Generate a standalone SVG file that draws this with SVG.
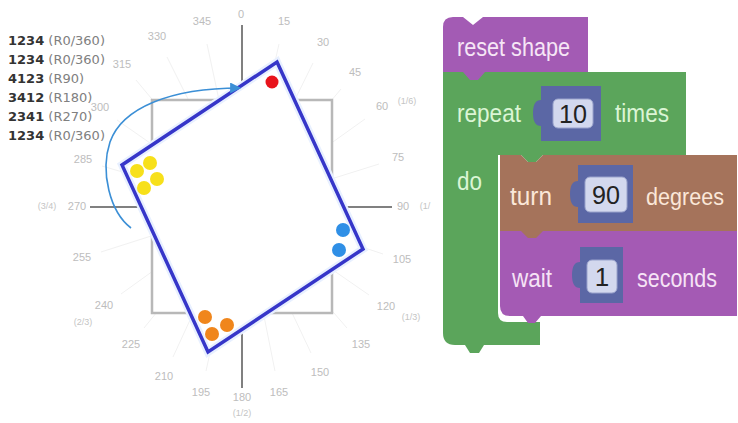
<svg xmlns="http://www.w3.org/2000/svg" width="738" height="423" viewBox="0 0 738 423">
<defs>
<style>
.ang{font-family:"Liberation Sans",Arial,sans-serif;font-size:11px;fill:#bdbdbd;text-anchor:middle;dominant-baseline:middle}
.frac{font-family:"Liberation Sans",Arial,sans-serif;font-size:9px;fill:#c4c4c4;text-anchor:middle;dominant-baseline:middle}
.ray{stroke:#f1f1f1;stroke-width:1}
.axis{stroke:#808080;stroke-width:2}
.num{font-family:"DejaVu Sans",Verdana,sans-serif;font-size:13px;font-weight:bold;fill:#333}
.rot{font-family:"DejaVu Sans",Verdana,sans-serif;font-size:13px;fill:#808080}
.blk{font-family:"Liberation Sans",Arial,sans-serif;font-size:26px}
.val{font-family:"Liberation Sans",Arial,sans-serif;font-size:26px;fill:#222;text-anchor:middle}
.in{fill:#5b67a5}
.inbox{fill:#d3d8ee;stroke:#9aa3cc;stroke-width:1}
</style>
<marker id="ah" viewBox="0 0 10 10" refX="9" refY="5" markerWidth="12" markerHeight="11" markerUnits="userSpaceOnUse" orient="auto">
<path d="M0,0 L10,5 L0,10 Z" fill="#3b8fd6"/>
</marker>
</defs>
<rect width="738" height="423" fill="#ffffff"/>

<g id="dial">
<g id="rays">
<line class="ray" x1="242" y1="207" x2="279" y2="44"/>
<line class="ray" x1="242" y1="207" x2="313" y2="63"/>
<line class="ray" x1="242" y1="207" x2="341" y2="89"/>
<line class="ray" x1="242" y1="207" x2="365" y2="119"/>
<line class="ray" x1="242" y1="207" x2="379" y2="164"/>
<line class="ray" x1="242" y1="207" x2="383" y2="254"/>
<line class="ray" x1="242" y1="207" x2="369" y2="295"/>
<line class="ray" x1="242" y1="207" x2="347" y2="328"/>
<line class="ray" x1="242" y1="207" x2="311" y2="353"/>
<line class="ray" x1="242" y1="207" x2="275" y2="371"/>
<line class="ray" x1="242" y1="207" x2="206" y2="371"/>
<line class="ray" x1="242" y1="207" x2="173" y2="357"/>
<line class="ray" x1="242" y1="207" x2="144" y2="328"/>
<line class="ray" x1="242" y1="207" x2="121" y2="294"/>
<line class="ray" x1="242" y1="207" x2="101" y2="252"/>
<line class="ray" x1="242" y1="207" x2="102" y2="166"/>
<line class="ray" x1="242" y1="207" x2="117" y2="120"/>
<line class="ray" x1="242" y1="207" x2="136" y2="80"/>
<line class="ray" x1="242" y1="207" x2="167" y2="57"/>
<line class="ray" x1="242" y1="207" x2="207" y2="44"/>
</g>
<rect x="152" y="100" width="180" height="213" fill="#ffffff" stroke="#b8b8b8" stroke-width="2.5"/>
<line class="axis" x1="242" y1="25" x2="242" y2="100"/>
<line class="axis" x1="242" y1="313" x2="242" y2="388"/>
<line class="axis" x1="90" y1="207" x2="152" y2="207"/>
<line class="axis" x1="332" y1="207" x2="392" y2="207"/>
<g id="angle-labels">
<text class="ang" x="241" y="15">0</text>
<text class="ang" x="284" y="22">15</text>
<text class="ang" x="323" y="43">30</text>
<text class="ang" x="355" y="73">45</text>
<text class="ang" x="382" y="107">60</text>
<text class="ang" x="398" y="158">75</text>
<text class="ang" x="403" y="207">90</text>
<text class="ang" x="402" y="260">105</text>
<text class="ang" x="386" y="307">120</text>
<text class="ang" x="361" y="345">135</text>
<text class="ang" x="320" y="373">150</text>
<text class="ang" x="279" y="393">165</text>
<text class="ang" x="242" y="398">180</text>
<text class="ang" x="201" y="393">195</text>
<text class="ang" x="164" y="377">210</text>
<text class="ang" x="131" y="345">225</text>
<text class="ang" x="104" y="306">240</text>
<text class="ang" x="82" y="258">255</text>
<text class="ang" x="77" y="207">270</text>
<text class="ang" x="83" y="160">285</text>
<text class="ang" x="100" y="108">300</text>
<text class="ang" x="122" y="65">315</text>
<text class="ang" x="157" y="37">330</text>
<text class="ang" x="202" y="22">345</text>
<text class="frac" x="407" y="102">(1/6)</text>
<text class="frac" x="425" y="207">(1/</text>
<text class="frac" x="411" y="318">(1/3)</text>
<text class="frac" x="242" y="414">(1/2)</text>
<text class="frac" x="83" y="323">(2/3)</text>
<text class="frac" x="47" y="207">(3/4)</text>
</g>
</g>

<g id="rotation-list">
<text x="8" y="45"><tspan class="num">1234</tspan><tspan class="rot"> (R0/360)</tspan></text>
<text x="8" y="64"><tspan class="num">1234</tspan><tspan class="rot"> (R0/360)</tspan></text>
<text x="8" y="83"><tspan class="num">4123</tspan><tspan class="rot"> (R90)</tspan></text>
<text x="8" y="102"><tspan class="num">3412</tspan><tspan class="rot"> (R180)</tspan></text>
<text x="8" y="121"><tspan class="num">2341</tspan><tspan class="rot"> (R270)</tspan></text>
<text x="8" y="140"><tspan class="num">1234</tspan><tspan class="rot"> (R0/360)</tspan></text>
</g>

<g id="shape">
<polygon points="277,62 363,249 208,352 122,165" fill="#ffffff" stroke="#e8f0ff" stroke-width="8" stroke-linejoin="miter"/>
<polygon points="277,62 363,249 208,352 122,165" fill="none" stroke="#3636c9" stroke-width="3.5" stroke-linejoin="miter"/>
<circle cx="272" cy="82" r="6.5" fill="#e8141c"/>
<circle cx="137" cy="171" r="7" fill="#f7e01a"/>
<circle cx="150" cy="163" r="7" fill="#f7e01a"/>
<circle cx="157" cy="179" r="7" fill="#f7e01a"/>
<circle cx="144" cy="188" r="7" fill="#f7e01a"/>
<circle cx="343" cy="230" r="7" fill="#2f8fe6"/>
<circle cx="339" cy="250" r="7" fill="#2f8fe6"/>
<circle cx="205" cy="317" r="7" fill="#f0861c"/>
<circle cx="212" cy="334" r="7" fill="#f0861c"/>
<circle cx="227" cy="325" r="7" fill="#f0861c"/>
</g>

<g id="connectors">
<path d="M131,228 C110,212 100,172 110,142 C122,108 170,88 240,88" fill="none" stroke="#3b8fd6" stroke-width="1.6" marker-end="url(#ah)"/>
</g>

<g id="blocks">
<g id="repeat-block">
<path d="M443,72 H686 V155 H543 L536,162 H528 L521,155 H498 V313 Q498,322 507,322 H540 V345 H484 L479,353 H470 L465,345 H455 Q443,345 443,333 Z" fill="#5ba55b"/>
<text class="blk" x="457" y="122" fill="#dbf5d5" textLength="64" lengthAdjust="spacingAndGlyphs">repeat</text>
<text class="blk" x="615" y="122" fill="#dbf5d5" textLength="54" lengthAdjust="spacingAndGlyphs">times</text>
<text class="blk" x="457" y="190" fill="#dbf5d5" textLength="25" lengthAdjust="spacingAndGlyphs">do</text>
<path class="in" d="M541,86 H601 V141 H541 V126 Q533,126 533,113 Q533,100 541,100 Z"/>
<rect class="inbox" x="553" y="99" width="40" height="29" rx="5"/>
<text class="val" x="573" y="123" textLength="28" lengthAdjust="spacingAndGlyphs">10</text>
</g>
<g id="reset-block">
<path d="M443,27 Q443,17 453,17 H463 L473,25 L483,17 H588 V72 H485 L478,80 H470 L463,72 H443 Z" fill="#a35bb4"/>
<text class="blk" x="457" y="56" fill="#f6e6f6" textLength="113" lengthAdjust="spacingAndGlyphs">reset shape</text>
</g>
<g id="wait-block">
<path d="M500,231 H737 V316 H541 L535,323 H528 L523,316 H510 Q500,316 500,306 Z" fill="#a45ab4"/>
<text class="blk" x="512" y="287" fill="#f6e3f6" textLength="40" lengthAdjust="spacingAndGlyphs">wait</text>
<text class="blk" x="637" y="287" fill="#f6e3f6" textLength="80" lengthAdjust="spacingAndGlyphs">seconds</text>
<path class="in" d="M580,247 H623 V303 H580 V288 Q572,288 572,275 Q572,262 580,262 Z"/>
<rect class="inbox" x="587" y="260" width="30" height="33" rx="5"/>
<text class="val" x="602" y="286">1</text>
</g>
<g id="turn-block">
<path d="M500,155 H521 L528,162 H536 L543,155 H737 V231 H543 L536,238 H528 L521,231 H500 Z" fill="#a5735b"/>
<text class="blk" x="510" y="205" fill="#fbe7d8" textLength="42" lengthAdjust="spacingAndGlyphs">turn</text>
<text class="blk" x="646" y="205" fill="#fbe7d8" style="font-size:23px" textLength="78" lengthAdjust="spacingAndGlyphs">degrees</text>
<path class="in" d="M578,165 H633 V223 H578 V207 Q570,207 570,194 Q570,181 578,181 Z"/>
<rect class="inbox" x="585" y="177" width="42" height="35" rx="5"/>
<text class="val" x="606" y="204" textLength="28" lengthAdjust="spacingAndGlyphs">90</text>
</g>
</g>
</svg>
